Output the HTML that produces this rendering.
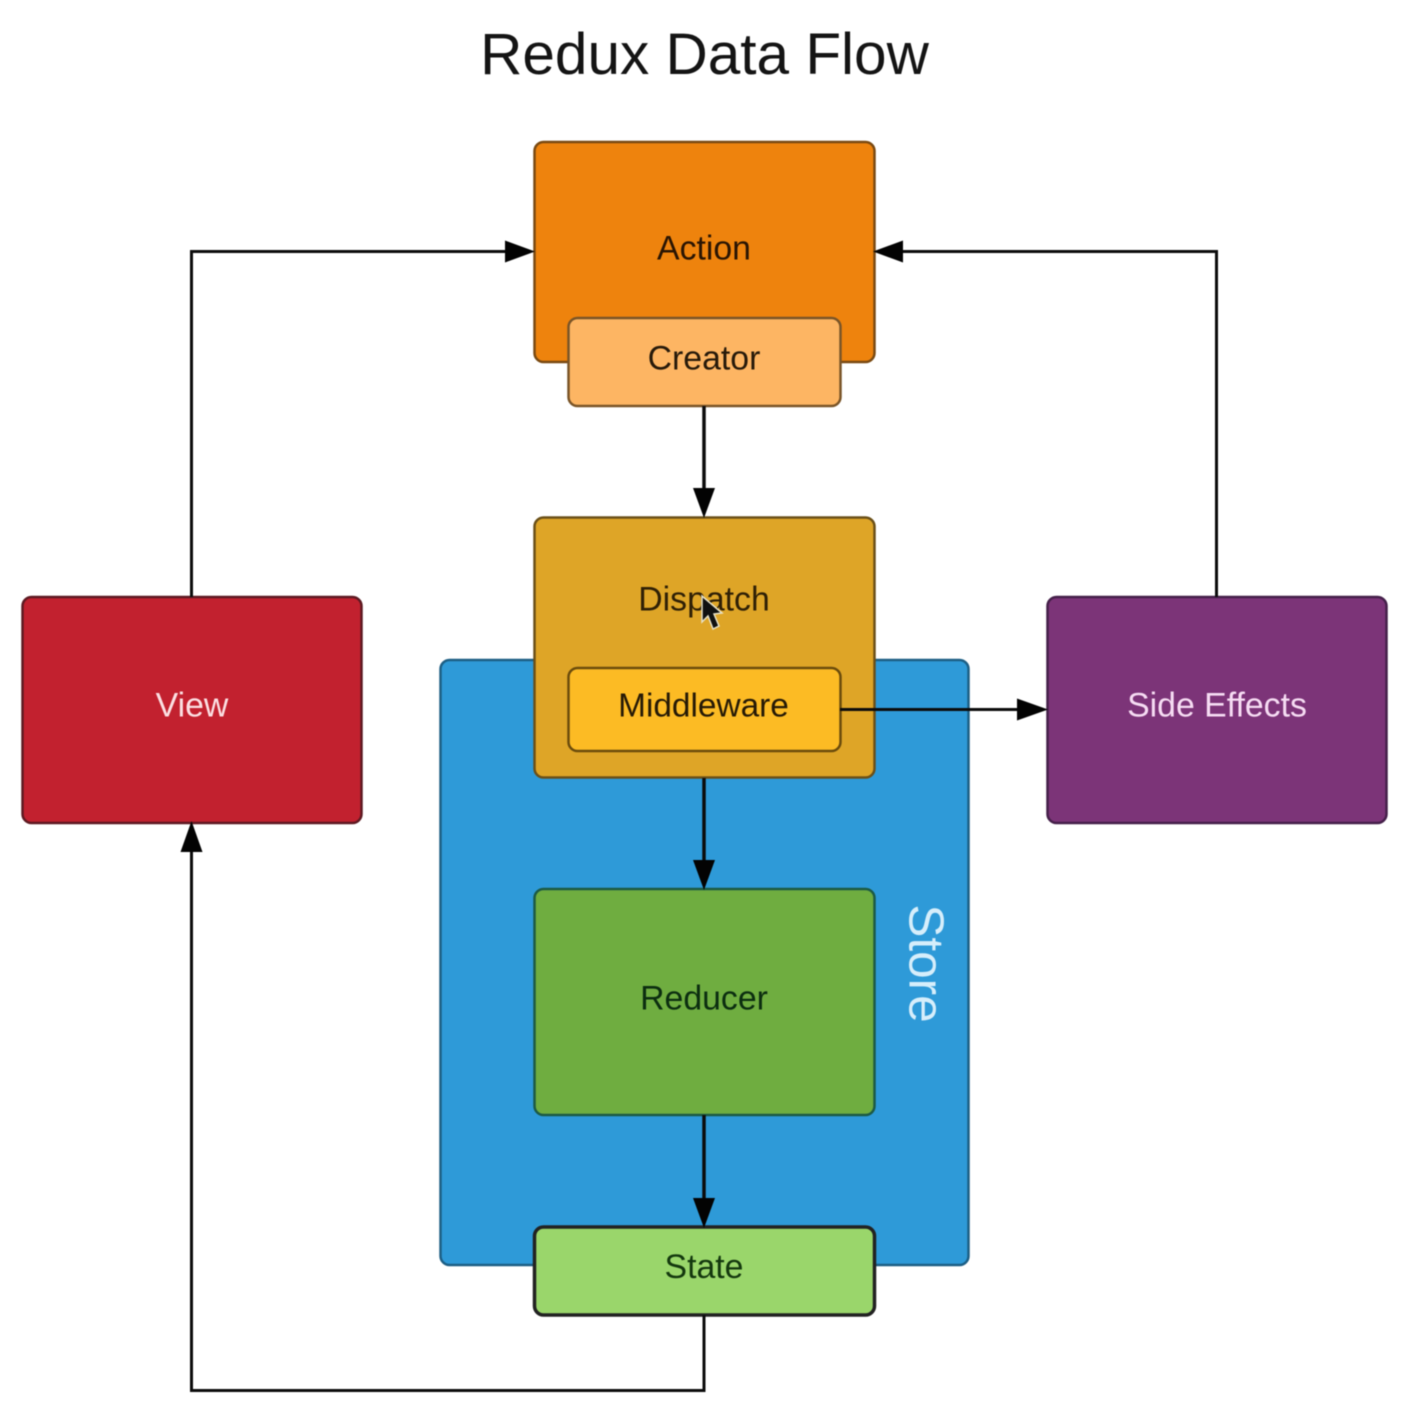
<!DOCTYPE html>
<html><head><meta charset="utf-8"><style>
html,body{margin:0;padding:0;background:#fff}
svg{display:block;filter:blur(0.55px)}
text{font-family:"Liberation Sans",sans-serif;text-anchor:middle}
</style></head><body>
<svg width="1418" height="1422" viewBox="0 0 1418 1422" xmlns="http://www.w3.org/2000/svg">
<rect width="1418" height="1422" fill="#fff"/>
<text x="704.500" y="74" font-size="58.500" fill="#141414">Redux Data Flow</text>
<g stroke-width="2.500">
<rect x="440.500" y="660" width="528" height="605" rx="9" fill="#2e9ad8" stroke="#1d5f85"/>
<rect x="534.500" y="142" width="340" height="220" rx="9" fill="#ee830d" stroke="#7a4a12"/>
<rect x="568.500" y="318" width="272" height="88" rx="9" fill="#fdb563" stroke="#7a5528"/>
<rect x="534.500" y="517.500" width="340" height="260" rx="9" fill="#dea527" stroke="#6b5018"/>
<rect x="568.500" y="668" width="272" height="83" rx="9" fill="#fcbb24" stroke="#6b4c0c"/>
<rect x="22.500" y="597" width="339" height="226" rx="9" fill="#c2212f" stroke="#5e1a22"/>
<rect x="1047.500" y="597" width="339" height="226" rx="9" fill="#7c3478" stroke="#45204a"/>
<rect x="534.500" y="889" width="340" height="226" rx="9" fill="#6fad40" stroke="#1c5a45"/>
<rect x="534.500" y="1227" width="340" height="88" rx="9" fill="#9ad66b" stroke="#222" stroke-width="3.500"/>
</g>
<g fill="none" stroke="#0c0c0c" stroke-width="3">
<path d="M191.500 597V251.500H510"/>
<path d="M1216.500 597V251.500H900"/>
<path d="M704 406V492" stroke-width="3.500"/>
<path d="M704 778V864" stroke-width="3.500"/>
<path d="M704 1115V1202" stroke-width="3.500"/>
<path d="M840 709.500H1020"/>
<path d="M704 1315V1390.500H191.500V848"/>
</g>
<g fill="#030303">
<path d="M535 251.500L505 240.500V262.500Z"/>
<path d="M873 251.500L903 240.500V262.500Z"/>
<path d="M704 518L693 488H715Z"/>
<path d="M704 890L693 860H715Z"/>
<path d="M704 1228L693 1198H715Z"/>
<path d="M1048 709.500L1017 698.500V720.500Z"/>
<path d="M191.500 821L180.500 852H202.500Z"/>
</g>
<g font-size="33.800">
<text x="704" y="259.500" fill="#2a1503">Action</text>
<text x="704" y="369.500" fill="#271a0a">Creator</text>
<text x="704" y="610.500" fill="#2f2006">Dispatch</text>
<text x="703.500" y="716.500" font-size="33.400" fill="#261a06">Middleware</text>
<text x="704" y="1009.500" fill="#0c2e10">Reducer</text>
<text x="704" y="1278" fill="#14380e">State</text>
<text x="192" y="716.500" fill="#fbdfe2">View</text>
<text x="1217" y="716.500" fill="#f6dcf3">Side Effects</text>
</g>
<text transform="translate(909.500,963.500) rotate(90)" font-size="49.500" fill="#d6eefb">Store</text>
<path d="M702 596V622L708 616L713 629L719 626L714 614L722 613Z" fill="#111" stroke="#e8e2c8" stroke-width="1.500"/>
</svg>
</body></html>
